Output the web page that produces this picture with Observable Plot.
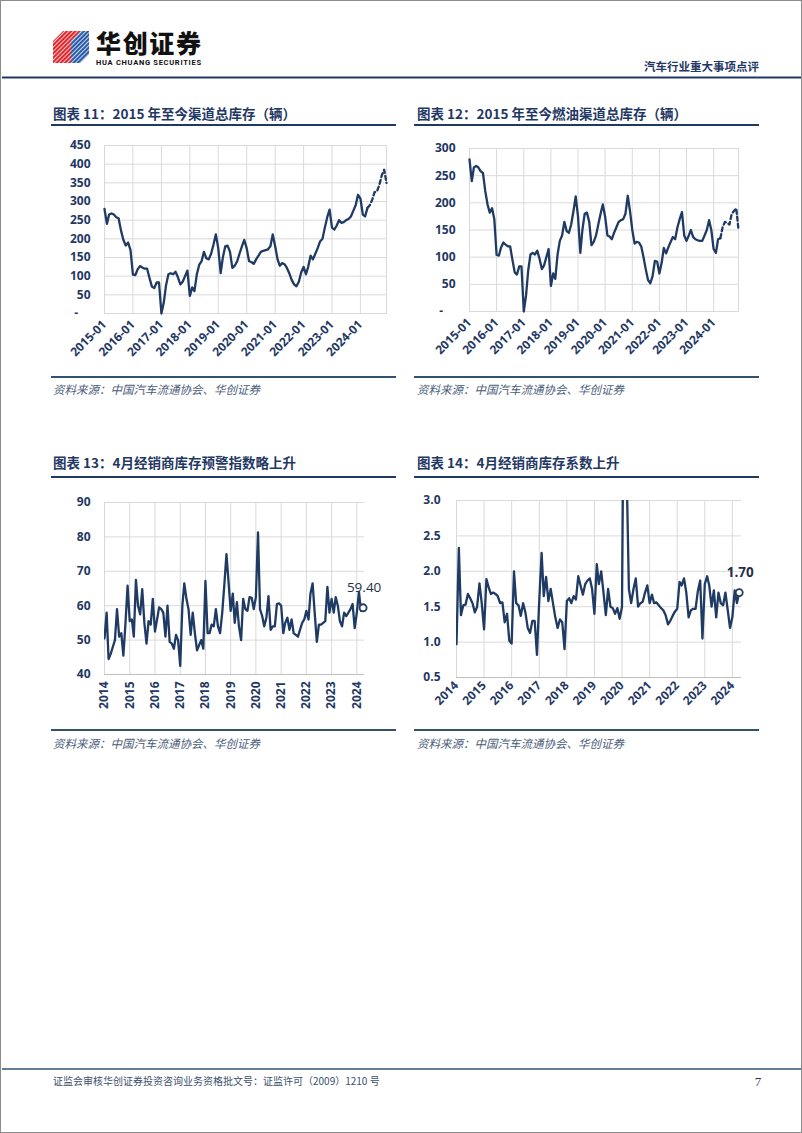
<!DOCTYPE html>
<html>
<head>
<meta charset="utf-8">
<script src="https://cdn.jsdelivr.net/npm/d3@7"></script>
<script src="https://cdn.jsdelivr.net/npm/@observablehq/plot@0.6"></script>
<style>
  body { margin: 0; background: #fff; }
  #page { position: relative; width: 802px; height: 1133px; box-sizing: border-box; border: 1px solid #8c8c8c; background: #fff; overflow: hidden; }
  #overlay { position: absolute; left: 0; top: 0; }
  .chart { position: absolute; }
</style>
</head>
<body>
<div id="page">
  <svg id="overlay" width="802" height="1133"></svg>
  <div class="chart" id="c1" style="left:40px;top:130px"></div>
  <div class="chart" id="c2" style="left:410px;top:130px"></div>
  <div class="chart" id="c3" style="left:40px;top:480px"></div>
  <div class="chart" id="c4" style="left:410px;top:480px"></div>
</div>
<script>
// ---------------- DATA ----------------
const titles = [
  "图表 11：2015 年至今渠道总库存（辆）",
  "图表 12：2015 年至今燃油渠道总库存（辆）",
  "图表 13：4月经销商库存预警指数略上升",
  "图表 14：4月经销商库存系数上升"
];
const sourceText = "资料来源：中国汽车流通协会、华创证券";
const headerRight = "汽车行业重大事项点评";
const footerText = "证监会审核华创证券投资咨询业务资格批文号：证监许可（2009）1210 号";
const pageNumber = "7";

// Chart 11: total channel inventory, monthly from 2015-01
const totalInventory = [
  280, 240, 265, 268, 265, 258, 255, 222, 197, 182, 190, 170,
  104, 103, 118, 127, 123, 120, 120, 95, 72, 68, 83, 83,
  0, 30, 75, 105, 108, 105, 112, 97, 78, 85, 100, 115,
  47, 70, 60, 105, 130, 140, 165, 148, 145, 160, 185, 212,
  175, 108, 150, 180, 182, 165, 122, 128, 140, 160, 180, 197,
  175, 140, 138, 133, 145, 155, 165, 168, 170, 172, 180, 212,
  180, 145, 128, 135, 132, 122, 108, 90, 78, 73, 85, 110,
  125, 105, 125, 155, 145, 160, 175, 193, 200, 230, 258, 278,
  230, 225, 235, 250, 243, 245, 250, 253, 260, 275, 290, 318,
  308, 265, 260, 283, 290, 305, 325, 327, 345, 370, 385, 350
];
// Chart 12: fuel-vehicle channel inventory, monthly from 2015-01
const fuelInventory = [
  280, 240, 265, 268, 265, 258, 255, 222, 197, 182, 190, 170,
  104, 103, 118, 127, 123, 120, 120, 95, 72, 68, 83, 83,
  0, 30, 75, 105, 108, 105, 112, 97, 78, 85, 100, 115,
  47, 70, 60, 105, 130, 140, 165, 148, 145, 160, 185, 212,
  175, 108, 150, 180, 182, 165, 122, 128, 140, 160, 180, 197,
  175, 140, 138, 133, 145, 155, 165, 168, 170, 180, 213, 185,
  150, 125, 128, 127, 120, 100, 78, 58, 52, 65, 93, 92,
  70, 90, 117, 107, 118, 128, 137, 133, 155, 170, 183, 140,
  130, 140, 150, 137, 133, 131, 130, 130, 140, 150, 168, 150,
  115, 108, 133, 135, 155, 165, 163, 160, 180, 185, 190, 150
];
const dashedFromIndex = 111;   // dashed segment at the end of charts 11/12
const inventoryStart = "2015-01";
const inventoryTickLabels = ["2015-01","2016-01","2017-01","2018-01","2019-01","2020-01","2021-01","2022-01","2023-01","2024-01"];
const totalYTicks = [0, 50, 100, 150, 200, 250, 300, 350, 400, 450];
const fuelYTicks = [0, 50, 100, 150, 200, 250, 300];

// Chart 13: dealer inventory warning index, monthly from 2014-01 to 2024-04
const warningIndex = [
  50.5, 58, 44.5, 46, 48, 50, 59, 51, 52, 45.5, 55, 65.8,
  55.5, 56, 51, 67.5, 60, 57.5, 64.8, 55, 49, 55.5, 54.5, 62,
  52.5, 56, 59.5, 59, 58, 51, 60, 49.5, 49, 47.5, 51.5, 50,
  42.5, 60, 66.5, 62, 59, 51.5, 58, 52, 47, 48.5, 50, 47.5,
  67.2, 52, 52, 54.5, 54, 59, 54, 52, 58, 66, 75, 67,
  58.5, 63.5, 55, 61, 54, 50, 62, 59, 58.5, 62.5, 62.3, 59,
  62.5, 81.3, 59, 57, 54, 56.5, 62.8, 53, 54, 54, 60.5, 60.7,
  60, 52, 55, 56.5, 53, 56, 52, 51.5, 51, 53, 55, 56,
  58.5, 56, 63.5, 66.5, 58, 49.5, 54.5, 54.5, 55, 55.5, 65.5, 58,
  62, 58, 62.5, 60, 55.5, 54, 58, 57, 58, 59, 60.5, 53.5,
  58, 64, 58.5, 59.4
];
// Chart 14: dealer inventory coefficient, monthly from 2014-01 to 2024-04
const inventoryCoef = [
  0.97, 2.33, 1.38, 1.52, 1.53, 1.68, 1.62, 1.55, 1.42, 1.5, 1.83, 1.55,
  1.18, 1.89, 1.78, 1.68, 1.7, 1.68, 1.65, 1.55, 1.56, 1.28, 1.4, 1.02,
  0.98, 2.0, 1.55, 1.52, 1.37, 1.55, 1.42, 1.2, 1.13, 1.3, 1.3, 0.82,
  1.6, 2.26, 1.65, 1.92, 1.58, 1.75, 1.55, 1.35, 1.2, 1.32, 1.28, 0.9,
  1.58, 1.62, 1.55, 1.65, 1.6, 1.93, 1.8, 1.67, 1.82, 1.87, 1.9, 1.75,
  1.4, 2.1, 1.82, 2.0, 1.7, 1.38, 1.75, 1.5, 1.48, 1.4, 1.48, 1.33,
  1.5, 6.0, 3.5, 1.75, 1.55, 1.75, 1.9, 1.5, 1.55, 1.57, 1.7, 1.8,
  1.55, 1.67, 1.55, 1.56, 1.52, 1.48, 1.45, 1.38, 1.25, 1.3, 1.37, 1.43,
  1.47, 1.85, 1.8, 1.9, 1.7, 1.35, 1.45, 1.47, 1.47, 1.72, 1.87, 1.05,
  1.82, 1.93, 1.8, 1.5, 1.73, 1.35, 1.7, 1.55, 1.52, 1.7, 1.45, 1.2,
  1.35, 1.73, 1.55, 1.70
];
const dealerStart = "2014-01";
const dealerTickLabels = ["2014","2015","2016","2017","2018","2019","2020","2021","2022","2023","2024"];
const warningYTicks = [40, 50, 60, 70, 80, 90];
const coefYTicks = [0.5, 1.0, 1.5, 2.0, 2.5, 3.0];

// ---------------- STYLE ----------------
const NAVY = "#1f3a63";
const TEXTNAVY = "#1f3864";
const GRID = "#d9d9d9";
const AXISGRAY = "#bfbfbf";

const parseMonth = d3.utcParse("%Y-%m");
const parseYear = d3.utcParse("%Y");
function monthly(start, values) {
  const t0 = parseMonth(start);
  return values.map((v, i) => ({ date: d3.utcMonth.offset(t0, i), v, i }));
}
const baseStyle = { fontFamily: "'Open Sans', 'DejaVu Sans', sans-serif", fontSize: "12px", fontWeight: "bold", color: TEXTNAVY, background: "transparent", overflow: "visible" };

// ---------------- OVERLAY (header, titles, sources, footer) ----------------
const ov = d3.select("#overlay");
const defs = ov.append("defs");
const pat = defs.append("pattern").attr("id", "stripes").attr("patternUnits", "userSpaceOnUse")
  .attr("width", 3).attr("height", 3).attr("patternTransform", "rotate(45)");
pat.append("rect").attr("width", 1).attr("height", 3).attr("fill", "#fff").attr("opacity", 0.75);

// logo
ov.append("path").attr("d", "M52,40 L62,30 L80,30 L70,40 L70,62 L52,62 Z").attr("fill", "#e1262d");
ov.append("path").attr("d", "M70,40 L80,30 L88,30 L88,53 L79,62 L70,62 Z").attr("fill", "#2a5caa");
ov.append("path").attr("d", "M52,40 L62,30 L88,30 L88,53 L79,62 L52,62 Z").attr("fill", "url(#stripes)");
ov.append("text").attr("x", 95).attr("y", 52).attr("font-family", "'Noto Sans CJK SC', sans-serif")
  .attr("font-size", 25).attr("font-weight", 900).attr("fill", "#111").attr("textLength", 105).text("华创证券");
ov.append("text").attr("x", 95).attr("y", 64).attr("font-family", "'Roboto', 'DejaVu Sans', sans-serif")
  .attr("font-size", 7.5).attr("font-weight", "bold").attr("fill", "#111").attr("textLength", 105)
  .text("HUA CHUANG SECURITIES");
ov.append("text").attr("x", 758).attr("y", 70).attr("text-anchor", "end")
  .attr("font-family", "'Noto Sans CJK SC', sans-serif").attr("font-size", 11.5).attr("font-weight", "bold")
  .attr("fill", TEXTNAVY).text(headerRight);
ov.append("line").attr("x1", 1).attr("x2", 801).attr("y1", 76.5).attr("y2", 76.5).attr("stroke", "#1f3864").attr("stroke-width", 2);

// titles and sources
const cols = [{ x: 52, l: 50, r: 395 }, { x: 416, l: 413, r: 758 }];
const rowsPos = [{ title: 118, tline: 124, sline: 376, src: 393 }, { title: 467, tline: 476, sline: 729, src: 747 }];
titles.forEach((t, k) => {
  const c = cols[k % 2], r = rowsPos[Math.floor(k / 2)];
  ov.append("text").attr("x", c.x).attr("y", r.title).attr("font-family", "'Noto Sans CJK SC', sans-serif")
    .attr("font-size", 13.5).attr("font-weight", "bold").attr("fill", TEXTNAVY).text(t);
  ov.append("line").attr("x1", c.l).attr("x2", c.r).attr("y1", r.tline).attr("y2", r.tline).attr("stroke", "#1f3864").attr("stroke-width", 2);
  ov.append("line").attr("x1", c.l).attr("x2", c.r).attr("y1", r.sline).attr("y2", r.sline).attr("stroke", "#34506f").attr("stroke-width", 2);
  ov.append("text").attr("x", c.x).attr("y", r.src).attr("font-family", "'Noto Sans CJK SC', sans-serif")
    .attr("font-size", 11.5).attr("font-style", "italic").attr("fill", "#4a5d7a").text(sourceText);
});

// footer
ov.append("line").attr("x1", 1).attr("x2", 801).attr("y1", 1068).attr("y2", 1068).attr("stroke", "#2f5077").attr("stroke-width", 1.5);
ov.append("text").attr("x", 52).attr("y", 1084).attr("font-family", "'Noto Sans CJK SC', sans-serif")
  .attr("font-size", 10).attr("fill", "#3a4f6e").text(footerText);
ov.append("text").attr("x", 757).attr("y", 1085).attr("text-anchor", "middle").attr("font-family", "'Liberation Serif', serif")
  .attr("font-size", 13).attr("fill", "#333").text(pageNumber);

// ---------------- CHARTS 11 & 12 ----------------
function inventoryChart(values, yTicks, dims) {
  const rows = monthly(inventoryStart, values);
  const xTicks = inventoryTickLabels.map(parseMonth);
  return Plot.plot({
    width: 360, height: 245,
    marginLeft: dims.ml, marginRight: dims.mr, marginTop: dims.mt, marginBottom: dims.mb,
    style: baseStyle,
    x: { type: "utc", domain: [rows[0].date, rows[rows.length - 1].date], axis: null },
    y: { domain: [yTicks[0], yTicks[yTicks.length - 1]], axis: null },
    marks: [
      Plot.gridX(xTicks, { stroke: GRID, strokeOpacity: 1 }),
      Plot.gridY(yTicks, { stroke: GRID, strokeOpacity: 1 }),
      Plot.frame({ stroke: GRID }),
      Plot.axisY(yTicks, { tickSize: 0, tickPadding: 14, tickFormat: d => d === 0 ? "-    " : d, label: null }),
      Plot.axisX(xTicks, { tickSize: 0, tickPadding: 9, tickRotate: -45, tickFormat: d3.utcFormat("%Y-%m"), label: null }),
      Plot.lineY(rows.slice(0, dashedFromIndex + 1), { x: "date", y: "v", stroke: NAVY, strokeWidth: 2.3 }),
      Plot.lineY(rows.slice(dashedFromIndex), { x: "date", y: "v", stroke: NAVY, strokeWidth: 2.3, strokeDasharray: "4,3" })
    ]
  });
}
document.getElementById("c1").append(inventoryChart(totalInventory, totalYTicks, { ml: 63, mr: 15, mt: 14, mb: 63 }));
document.getElementById("c2").append(inventoryChart(fuelInventory, fuelYTicks, { ml: 58, mr: 33, mt: 17, mb: 65 }));

// ---------------- CHARTS 13 & 14 ----------------
function dealerChart(values, yTicks, opts) {
  const rows = monthly(dealerStart, values);
  const xTicks = dealerTickLabels.map(parseYear);
  const last = rows[rows.length - 1];
  return Plot.plot({
    width: 360, height: opts.height,
    marginLeft: opts.ml, marginRight: opts.mr, marginTop: opts.mt, marginBottom: opts.mb,
    style: baseStyle,
    x: { type: "utc", domain: [rows[0].date, d3.utcDay.offset(last.date, opts.pad)], axis: null },
    y: { domain: [yTicks[0], yTicks[yTicks.length - 1]], axis: null },
    marks: [
      Plot.gridX(xTicks, { stroke: GRID, strokeOpacity: 1 }),
      Plot.gridY(yTicks.slice(1), { stroke: GRID, strokeOpacity: 1 }),
      Plot.ruleY([yTicks[0]], { stroke: AXISGRAY, strokeWidth: 1.2 }),
      Plot.axisY(yTicks, { tickSize: 0, tickPadding: opts.yPad, tickFormat: opts.yFormat, label: null }),
      Plot.axisX(xTicks, { tickSize: 0, tickPadding: opts.xPad, tickRotate: opts.rotate, tickFormat: d3.utcFormat("%Y"), label: null }),
      Plot.lineY(rows, { x: "date", y: "v", stroke: NAVY, strokeWidth: 2.3, clip: true }),
      Plot.dot([last], { x: "date", y: "v", r: 3.5, fill: "white", stroke: NAVY, strokeWidth: 1.8 }),
      Plot.text([last], { x: "date", y: "v", text: d => d.v.toFixed(2), dy: -20, dx: 1, fontSize: 13.5, fontWeight: opts.labelWeight, fill: "#1f2f4a" })
    ]
  });
}
document.getElementById("c3").append(dealerChart(warningIndex, warningYTicks,
  { height: 235, ml: 63, mr: 37, mt: 21, mb: 42, yPad: 14, xPad: 7, rotate: -90, yFormat: d => d, pad: 20, labelWeight: "normal" }));
document.getElementById("c4").append(dealerChart(inventoryCoef, coefYTicks,
  { height: 250, ml: 45, mr: 30, mt: 19, mb: 54, yPad: 16, xPad: 6, rotate: -45, yFormat: d3.format(".1f"), pad: 30, labelWeight: "bold" }));
</script>
</body>
</html>
